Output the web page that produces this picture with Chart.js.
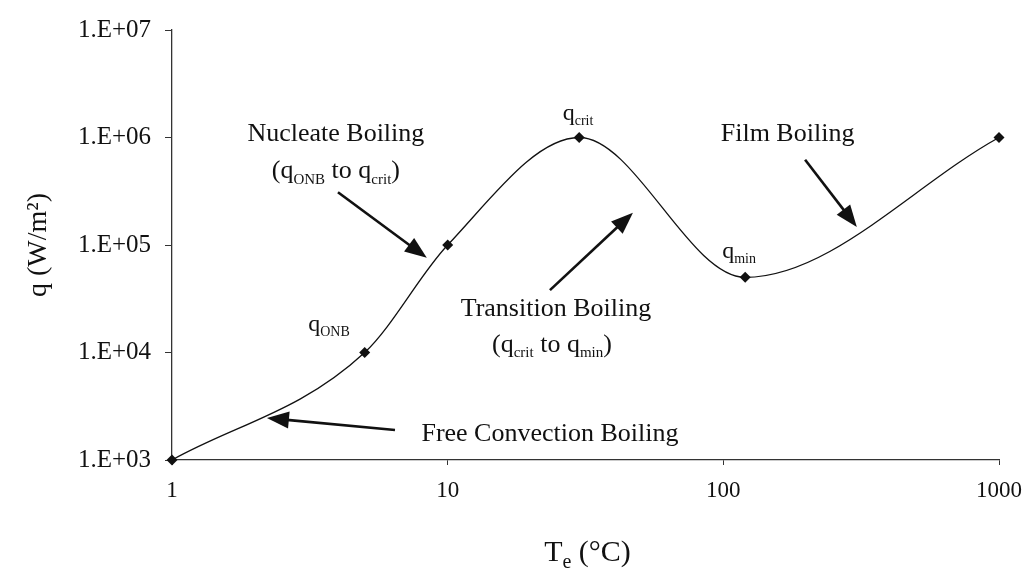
<!DOCTYPE html>
<html>
<head>
<meta charset="utf-8">
<title>Boiling curve</title>
<script src="https://cdn.jsdelivr.net/npm/chart.js@4.4.0/dist/chart.umd.min.js"></script>
<style>
  body { margin: 0; background: #fff; }
  #boilChart { display: block; }
</style>
</head>
<body>
<canvas id="boilChart" width="1030" height="568"></canvas>
<script>
// Boiling curve points
const excessTemp = [1, 5, 10, 30, 120, 1000];        // Te (°C)
const heatFlux = [1e3, 1e4, 1e5, 1e6, 5e4, 1e6];      // q (W/m2)

const xTicks = [1, 10, 100, 1000];
const yTicks = [1e3, 1e4, 1e5, 1e6, 1e7];
const yTickLabels = ['1.E+03', '1.E+04', '1.E+05', '1.E+06', '1.E+07'];

// Region notes: text pieces ([text, isSubscript]) and where they sit, in data units
const noteParts = [
    [['Nucleate Boiling', 0]],
    [['(q', 0], ['ONB', 1], [' to q', 0], ['crit', 1], [')', 0]],
    [['Transition Boiling', 0]],
    [['(q', 0], ['crit', 1], [' to q', 0], ['min', 1], [')', 0]],
    [['Film Boiling', 0]],
    [['Free Convection Boiling', 0]],
    [['q', 0], ['ONB', 1]],
    [['q', 0], ['crit', 1]],
    [['q', 0], ['min', 1]]
];
const noteX = [3.93, 3.93, 24.7, 23.9, 171, 23.5, 3.71, 29.7, 114];
const noteY = [1.12e6, 5.0e5, 2.65e4, 1.22e4, 1.12e6, 1.82e3, 1.88e4, 1.73e6, 8.98e4];

// Arrows: tail -> head, in data units
const arrowFromX = [4.0, 23.5, 198, 6.44];
const arrowFromY = [3.1e5, 3.8e4, 6.2e5, 1.9e3];
const arrowToX = [8.4, 47, 305, 2.21];
const arrowToY = [7.6e4, 2.0e5, 1.47e5, 2.46e3];

const serif = '"Liberation Serif", "Times New Roman", serif';
const ink = '#111';

function drawRich(ctx, parts, cx, cy, size, subSize) {
    let w = 0;
    parts.forEach(p => {
        ctx.font = (p[1] ? subSize : size) + 'px ' + serif;
        w += ctx.measureText(p[0]).width;
    });
    let x = cx - w / 2;
    const base = cy + size * 0.33;
    parts.forEach(p => {
        ctx.font = (p[1] ? subSize : size) + 'px ' + serif;
        ctx.fillText(p[0], x, base + (p[1] ? size * 0.2 : 0));
        x += ctx.measureText(p[0]).width;
    });
}

function drawArrow(ctx, x1, y1, x2, y2) {
    const ang = Math.atan2(y2 - y1, x2 - x1);
    const c = Math.cos(ang), s = Math.sin(ang);
    const headLen = 22, headW = 8.5;
    const bx = x2 - headLen * c, by = y2 - headLen * s;
    ctx.lineWidth = 2.6;
    ctx.beginPath();
    ctx.moveTo(x1, y1);
    ctx.lineTo(bx + c * 2, by + s * 2);
    ctx.stroke();
    ctx.beginPath();
    ctx.moveTo(x2, y2);
    ctx.lineTo(bx + headW * s, by - headW * c);
    ctx.lineTo(bx - headW * s, by + headW * c);
    ctx.closePath();
    ctx.fill();
}

// notes, arrows and the x-axis title
const notesPlugin = {
    id: 'notes',
    afterDatasetsDraw(chart) {
        const ctx = chart.ctx;
        const xs = chart.scales.x, ys = chart.scales.y;
        ctx.save();
        ctx.fillStyle = ink;
        ctx.strokeStyle = ink;
        ctx.textAlign = 'left';
        ctx.textBaseline = 'alphabetic';

        noteParts.forEach((parts, i) => {
            const small = parts.length === 2;
            drawRich(ctx, parts, xs.getPixelForValue(noteX[i]), ys.getPixelForValue(noteY[i]),
                small ? 24 : 26, small ? 14 : 15);
        });

        arrowFromX.forEach((v, i) => {
            drawArrow(ctx,
                xs.getPixelForValue(v), ys.getPixelForValue(arrowFromY[i]),
                xs.getPixelForValue(arrowToX[i]), ys.getPixelForValue(arrowToY[i]));
        });

        // x title: T with subscript e, (°C)
        const area = chart.chartArea;
        const cx = (area.left + area.right) / 2 + 2;
        const base = 561;
        const parts = [['T', 30, 0], ['e', 20, 7], [' (°C)', 30, 0]];
        let w = 0;
        parts.forEach(p => { ctx.font = p[1] + 'px ' + serif; w += ctx.measureText(p[0]).width; });
        let x = cx - w / 2;
        parts.forEach(p => {
            ctx.font = p[1] + 'px ' + serif;
            ctx.fillText(p[0], x, base + p[2]);
            x += ctx.measureText(p[0]).width;
        });
        ctx.restore();
    }
};

const whiteBg = {
    id: 'whiteBg',
    beforeDraw(chart) {
        const ctx = chart.ctx;
        ctx.save();
        ctx.fillStyle = '#fff';
        ctx.fillRect(0, 0, chart.width, chart.height);
        ctx.restore();
    }
};

const points = excessTemp.map((t, i) => ({ x: t, y: heatFlux[i] }));

const ctx = document.getElementById('boilChart').getContext('2d');
new Chart(ctx, {
    type: 'line',
    data: {
        datasets: [{
            label: 'Boiling curve',
            data: points,
            borderColor: ink,
            borderWidth: 1.3,
            backgroundColor: ink,
            cubicInterpolationMode: 'monotone',
            pointStyle: 'rectRot',
            pointRadius: 5.5,
            pointBorderWidth: 0,
            pointBackgroundColor: ink,
            fill: false,
            clip: false
        }]
    },
    options: {
        responsive: false,
        animation: false,
        layout: { padding: { top: 30, right: 31, bottom: 0, left: 0 } },
        plugins: {
            legend: { display: false },
            tooltip: { enabled: false }
        },
        scales: {
            x: {
                type: 'logarithmic',
                min: 1,
                max: 1000,
                afterBuildTicks: scale => { scale.ticks = xTicks.map(v => ({ value: v })); },
                afterFit: scale => {
                    scale.height = 108;
                    scale.paddingLeft = 0;
                    scale.paddingRight = 0;
                },
                grid: { display: true, drawOnChartArea: false, drawTicks: true, tickLength: 5, color: '#333' },
                border: { display: true, color: '#333', width: 1.3 },
                ticks: {
                    autoSkip: false,
                    maxRotation: 0,
                    padding: 12,
                    color: ink,
                    font: { family: serif, size: 23 },
                    callback: v => String(v)
                },
                title: { display: false }
            },
            y: {
                type: 'logarithmic',
                min: 1e3,
                max: 1e7,
                afterBuildTicks: scale => { scale.ticks = yTicks.map(v => ({ value: v })); },
                afterFit: scale => {
                    scale.width = 172;
                    scale.paddingTop = 0;
                    scale.paddingBottom = 0;
                },
                grid: { display: true, drawOnChartArea: false, drawTicks: true, tickLength: 7, color: '#333' },
                border: { display: true, color: '#333', width: 1.3 },
                ticks: {
                    autoSkip: false,
                    padding: 14,
                    color: ink,
                    font: { family: serif, size: 25 },
                    callback: v => yTickLabels[yTicks.indexOf(v)]
                },
                title: {
                    display: true,
                    text: 'q (W/m²)',
                    color: ink,
                    font: { family: serif, size: 28 },
                    padding: { top: 22, bottom: 0 }
                }
            }
        }
    },
    plugins: [whiteBg, notesPlugin]
});
</script>
</body>
</html>
